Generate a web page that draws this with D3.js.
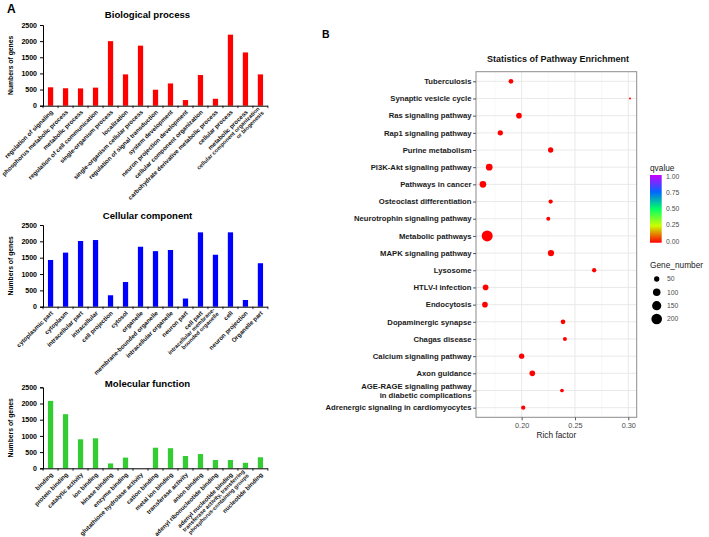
<!DOCTYPE html>
<html lang="en">
<head>
<meta charset="UTF-8" />
<title>GO / KEGG enrichment</title>
<script src="https://d3js.org/d3.v7.min.js"></script>
<style>
  body { margin: 0; background: #fff; }
  text { font-family: "Liberation Sans", Arial, sans-serif; }
</style>
</head>
<body>
<div class="canvas"></div>
<script>
/* ---- data: GO bar charts ---- */
const bpTerms = ["regulation of signaling", "phosphorus metabolic process", "metabolic process",
  "regulation of cell communication", "single-organism process", "localization",
  "single-organism cellular process", "regulation of signal transduction", "system development",
  "neuron projection development", "cellular component organization",
  "carbohydrate derivative metabolic process", "cellular process", "metabolic process",
  "cellular component organization|or biogenesis"];
const bpCounts = [570, 540, 535, 560, 2000, 970, 1860, 495, 690, 175, 950, 215, 2200, 1650, 970];

const ccTerms = ["cytoplasmic part", "cytoplasm", "intracellular part", "intracellular", "cell projection",
  "cytosol", "organelle", "membrane-bounded organelle", "intracellular organelle", "neuron part",
  "cell part", "intracellular membrane-|bounded organelle", "cell", "neuron projection", "Organelle part"];
const ccCounts = [1430, 1655, 2010, 2040, 350, 755, 1835, 1700, 1735, 250, 2275, 1590, 2275, 205, 1330];

const mfTerms = ["binding", "protein binding", "catalytic activity", "ion binding", "kinase binding",
  "enzyme binding", "glutathione hydrolase activity", "cation binding", "metal ion binding",
  "transferase activity", "anion binding", "adenyl ribonucleotide binding", "adenyl nucleotide binding",
  "transferase activity, transferring|phosphorus-containing groups", "nucleotide binding"];
const mfCounts = [2080, 1670, 895, 925, 150, 330, 0, 635, 620, 380, 440, 255, 255, 170, 340];

const countTicks = [0, 500, 1000, 1500, 2000, 2500];

/* ---- data: KEGG dot plot ---- */
const pathways = ["Tuberculosis", "Synaptic vesicle cycle", "Ras signaling pathway", "Rap1 signaling pathway",
  "Purine metabolism", "PI3K-Akt signaling pathway", "Pathways in cancer", "Osteoclast differentiation",
  "Neurotrophin signaling pathway", "Metabolic pathways", "MAPK signaling pathway", "Lysosome",
  "HTLV-I infection", "Endocytosis", "Dopaminergic synapse", "Chagas disease", "Calcium signaling pathway",
  "Axon guidance", "AGE-RAGE signaling pathway|in diabetic complications",
  "Adrenergic signaling in cardiomyocytes"];
const richFactor = [0.190, 0.3016, 0.1975, 0.180, 0.2272, 0.1696, 0.1637, 0.2272, 0.2250, 0.1677,
  0.2275, 0.2680, 0.1662, 0.1656, 0.2388, 0.2406, 0.2000, 0.2100, 0.2378, 0.2015];
const geneNumber = [39, 7, 57, 50, 50, 79, 79, 33, 28, 215, 71, 33, 57, 57, 39, 28, 50, 57, 24, 33];
const qvalue = [0, 0, 0, 0, 0, 0, 0, 0, 0, 0, 0, 0, 0, 0, 0, 0, 0, 0, 0, 0];
const richTicks = [0.20, 0.25, 0.30];
const richMinor = [0.175, 0.225, 0.275];
const qTicks = [0, 0.25, 0.5, 0.75, 1];
const sizeTicks = [50, 100, 150, 200];

const W = 709, H = 537;
const svg = d3.select(".canvas").append("svg").attr("width", W).attr("height", H);

svg.append("text").attr("x", 7).attr("y", 12.5).attr("font-size", 12).attr("font-weight", "bold").text("A");
svg.append("text").attr("x", 322).attr("y", 37.5).attr("font-size", 10.5).attr("font-weight", "bold").text("B");

/* ---- bar chart helper ---- */
function barChart(title, terms, counts, color, top, bottom, titleY) {
  const g = svg.append("g");
  const x = d3.scaleBand().domain(d3.range(terms.length)).range([43, 268]).paddingInner(0.65).paddingOuter(0.33);
  const y = d3.scaleLinear().domain([0, 2500]).range([bottom, top]);

  g.append("text").attr("x", 147.5).attr("y", titleY).attr("text-anchor", "middle")
    .attr("font-size", 9.6).attr("font-weight", "bold").text(title);

  g.selectAll("rect").data(counts).enter().append("rect")
    .attr("x", (d, i) => x(i)).attr("width", x.bandwidth())
    .attr("y", d => y(d)).attr("height", d => bottom - y(d))
    .attr("fill", color);

  const ay = g.append("g").attr("transform", "translate(43,0)")
    .call(d3.axisLeft(y).tickValues(countTicks).tickSize(3).tickFormat(d3.format("d")));
  ay.select(".domain").attr("stroke", "#000");
  ay.selectAll("text").attr("font-size", 7).attr("font-weight", "bold");

  // x axis with ticks between bars
  const step = x.step();
  const edge = i => x(0) - (step - x.bandwidth()) / 2 + i * step;
  g.append("line").attr("x1", 43).attr("x2", 268).attr("y1", bottom + 0.5).attr("y2", bottom + 0.5).attr("stroke", "#000");
  g.selectAll(".sep").data(d3.range(terms.length + 1)).enter().append("line")
    .attr("x1", edge).attr("x2", edge)
    .attr("y1", bottom).attr("y2", bottom + 2.5).attr("stroke", "#000").attr("stroke-width", 0.8);

  g.selectAll(".lab").data(terms).enter().append("text")
    .attr("transform", (d, i) => `translate(${x(i) + x.bandwidth() / 2 + 1.5},${bottom + 5.5}) rotate(-45)`)
    .attr("text-anchor", "end").attr("font-weight", "bold").attr("fill", "#111")
    .attr("font-size", d => d.includes("|") ? 5.6 : 6.1)
    .each(function (d) {
      const lines = d.split("|");
      const t = d3.select(this);
      lines.forEach((ln, k) => {
        t.append("tspan").attr("x", 0).attr("dy", k === 0 ? (lines.length > 1 ? "-0.5em" : "0.3em") : "1.05em").text(ln);
      });
    });

  g.append("text").attr("transform", `translate(12.5,${(top + bottom) / 2}) rotate(-90)`)
    .attr("text-anchor", "middle").attr("font-size", 6.8).attr("font-weight", "bold").text("Numbers of genes");
}

barChart("Biological process", bpTerms, bpCounts, "#ff0000", 25, 105.7, 17.5);
barChart("Cellular component", ccTerms, ccCounts, "#0000ff", 225, 306.7, 218.5);
barChart("Molecular function", mfTerms, mfCounts, "#33cc33", 387.3, 468.3, 387);

/* ---- dot plot ---- */
const px0 = 476, px1 = 636.7, py0 = 71.7, py1 = 417.3;
const xr = d3.scaleLinear().domain([0.1572, 0.3079]).range([px0, px1]);
const yr = d3.scalePoint().domain(pathways).range([81.3, 407.7]);
const rs = d3.scaleSqrt().domain([0, 250]).range([0, 5.93]);
const rainbow = ["#ff0000", "#ccff00", "#00ff66", "#0066ff", "#cc00ff"];
const col = d3.scaleLinear().domain(qTicks).range(rainbow);

const gb = svg.append("g");
gb.append("text").attr("x", 558).attr("y", 61.5).attr("text-anchor", "middle")
  .attr("font-size", 9).attr("font-weight", "bold").attr("fill", "#111").text("Statistics of Pathway Enrichment");

gb.append("rect").attr("x", px0).attr("y", py0).attr("width", px1 - px0).attr("height", py1 - py0).attr("fill", "#fff");
gb.selectAll(".vmin").data(richMinor).enter().append("line")
  .attr("x1", d => xr(d)).attr("x2", d => xr(d)).attr("y1", py0).attr("y2", py1)
  .attr("stroke", "#f2f2f2").attr("stroke-width", 0.6);
gb.selectAll(".vmaj").data(richTicks).enter().append("line")
  .attr("x1", d => xr(d)).attr("x2", d => xr(d)).attr("y1", py0).attr("y2", py1)
  .attr("stroke", "#e6e6e6").attr("stroke-width", 0.9);
gb.selectAll(".hmaj").data(pathways).enter().append("line")
  .attr("x1", px0).attr("x2", px1).attr("y1", d => yr(d)).attr("y2", d => yr(d))
  .attr("stroke", "#e6e6e6").attr("stroke-width", 0.9);
gb.append("rect").attr("x", px0).attr("y", py0).attr("width", px1 - px0).attr("height", py1 - py0)
  .attr("fill", "none").attr("stroke", "#8c8c8c").attr("stroke-width", 1);

gb.selectAll("circle.pt").data(pathways).enter().append("circle").attr("class", "pt")
  .attr("cx", (d, i) => xr(richFactor[i])).attr("cy", d => yr(d))
  .attr("r", (d, i) => rs(geneNumber[i])).attr("fill", (d, i) => col(qvalue[i]));

// y axis
const gy = gb.append("g").attr("transform", `translate(${px0},0)`)
  .call(d3.axisLeft(yr).tickSize(3).tickFormat(""));
gy.select(".domain").remove();
gy.selectAll("line").attr("stroke", "#555");
gb.selectAll(".ylab").data(pathways).enter().append("text")
  .attr("x", px0 - 4.5).attr("y", d => yr(d)).attr("text-anchor", "end")
  .attr("font-size", 7.7).attr("font-weight", "bold").attr("fill", "#1a1a1a")
  .each(function (d) {
    const lines = d.split("|");
    const t = d3.select(this);
    lines.forEach((ln, k) => {
      t.append("tspan").attr("x", px0 - 4.5)
        .attr("dy", k === 0 ? (lines.length > 1 ? "-0.25em" : "0.35em") : "1.2em").text(ln);
    });
  });

// x axis
const gx = gb.append("g").attr("transform", `translate(0,${py1})`)
  .call(d3.axisBottom(xr).tickValues(richTicks).tickSize(3).tickFormat(d3.format(".2f")));
gx.select(".domain").remove();
gx.selectAll("line").attr("stroke", "#555");
gx.selectAll("text").attr("font-size", 7.3).attr("fill", "#4d4d4d");
gb.append("text").attr("x", (px0 + px1) / 2).attr("y", 438).attr("text-anchor", "middle")
  .attr("font-size", 8.3).attr("fill", "#222").text("Rich factor");

// qvalue legend
const defs = svg.append("defs");
const grad = defs.append("linearGradient").attr("id", "qgrad").attr("x1", 0).attr("y1", 1).attr("x2", 0).attr("y2", 0);
qTicks.forEach((q, i) => grad.append("stop").attr("offset", q).attr("stop-color", rainbow[i]));
const barTop = 175, barBot = 242.7;
const qy = d3.scaleLinear().domain([0, 1]).range([241.2, 176.5]);
gb.append("text").attr("x", 650).attr("y", 171).attr("font-size", 8.3).attr("fill", "#222").text("qvalue");
gb.append("rect").attr("x", 650).attr("y", barTop).attr("width", 11.7).attr("height", barBot - barTop).attr("fill", "url(#qgrad)");
gb.selectAll(".qt").data(qTicks).enter().append("text")
  .attr("x", 666).attr("y", d => qy(d)).attr("dy", "0.35em")
  .attr("font-size", 6.8).attr("fill", "#4d4d4d").text(d => d3.format(".2f")(d));

// size legend
gb.append("text").attr("x", 650).attr("y", 268).attr("font-size", 8.3).attr("fill", "#222").text("Gene_number");
const sy = d3.scalePoint().domain(sizeTicks).range([279, 319]);
gb.selectAll(".sc").data(sizeTicks).enter().append("circle")
  .attr("cx", 656.7).attr("cy", d => sy(d)).attr("r", d => rs(d)).attr("fill", "#000");
gb.selectAll(".st").data(sizeTicks).enter().append("text")
  .attr("x", 667).attr("y", d => sy(d)).attr("dy", "0.35em")
  .attr("font-size", 6.8).attr("fill", "#4d4d4d").text(d => d);
</script>
</body>
</html>
